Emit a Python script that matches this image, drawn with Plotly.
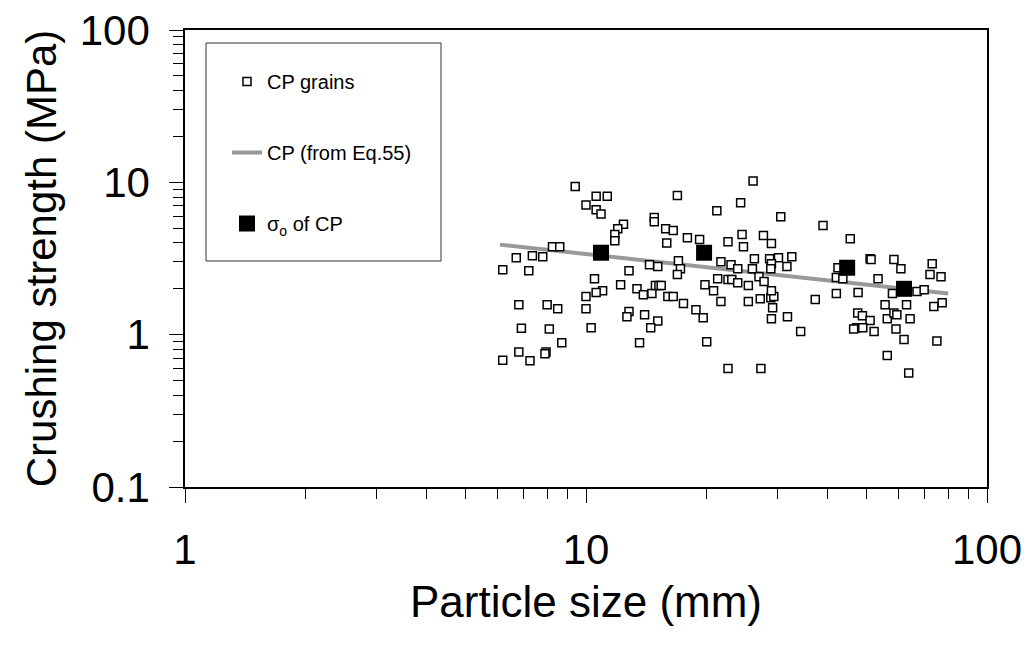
import plotly.graph_objects as go

# CP grains: particle size (mm) vs crushing strength (MPa)
grain_size = [
    9.4, 10.6, 11.3, 10.0, 10.6, 10.9, 12.4, 12.0, 11.8, 11.8,
    14.8, 14.8, 15.8, 15.9, 8.25, 8.6, 7.35, 7.8, 7.2, 12.8,
    14.4, 15.1, 10.5, 12.2, 13.4, 13.9, 14.6, 14.9, 15.2, 15.4,
    11.0, 10.6, 10.0, 8.0, 8.5, 10.0, 12.8, 12.65, 14.0, 15.1,
    16.0, 14.5, 8.1, 10.3, 8.7, 13.6, 7.95, 7.9, 7.25,
    26.1, 16.9, 24.3, 21.2, 30.6, 39.0, 16.5, 17.9, 19.2, 22.6,
    24.5, 27.7, 24.7, 29.0, 17.0, 17.2, 16.9, 21.7, 23.0, 23.9,
    26.3, 26.0, 28.7, 30.2, 32.6, 29.0, 28.9, 31.7, 27.0, 27.8,
    21.3, 22.6, 23.1, 23.9, 25.4, 19.8, 20.8, 16.5, 17.5, 18.8,
    19.6, 21.7, 25.4, 27.2, 28.9, 29.4, 29.0, 29.2, 29.0, 31.8,
    37.3, 34.3, 20.0, 22.6, 27.3,
    45.6, 42.5, 51.1, 51.4, 58.6, 61.0, 73.0, 72.1, 76.8, 42.1,
    43.7, 53.5, 42.1, 47.7, 58.1, 66.9, 69.7, 55.7, 63.0, 73.7,
    77.3, 47.6, 48.9, 51.1, 56.4, 58.6, 59.6, 64.3, 47.3, 46.5,
    49.0, 52.3, 59.3, 62.1, 75.0, 56.4, 63.8,
    6.2, 6.7, 6.2, 6.8, 6.8, 6.9,
]
grain_strength = [
    9.4, 8.1, 8.1, 7.1, 6.6, 6.2, 5.3, 4.96, 4.54, 4.14,
    5.87, 5.52, 4.96, 4.0, 3.78, 3.78, 3.3, 3.25, 2.63, 2.63,
    2.88, 2.8, 2.33, 2.13, 2.0, 1.83, 1.86, 2.1, 2.1, 2.1,
    1.94, 1.89, 1.78, 1.57, 1.48, 1.48, 1.42, 1.31, 1.35, 1.23,
    1.78, 1.11, 1.09, 1.11, 0.886, 0.886, 0.77, 0.75, 0.675,
    10.2, 8.2, 7.35, 6.52, 5.95, 5.2, 4.82, 4.33, 4.21, 4.08,
    4.54, 4.47, 3.78, 3.96, 3.06, 2.71, 2.48, 3.01, 2.88, 2.71,
    3.15, 2.71, 3.15, 3.2, 3.25, 2.92, 2.71, 2.8, 2.4, 2.23,
    2.33, 2.3, 2.3, 2.19, 2.1, 2.13, 1.94, 1.78, 1.6, 1.46,
    1.29, 1.65, 1.65, 1.72, 1.75, 1.78, 1.94, 1.5, 1.27, 1.31,
    1.7, 1.05, 0.9, 0.6, 0.6,
    4.27, 2.75, 3.15, 3.11, 3.11, 2.71, 2.92, 2.48, 2.4, 2.37,
    2.33, 2.33, 1.86, 1.89, 1.86, 1.92, 1.97, 1.57, 1.57, 1.53,
    1.62, 1.39, 1.33, 1.24, 1.27, 1.39, 1.35, 1.27, 1.11, 1.09,
    1.11, 1.05, 1.09, 0.93, 0.91, 0.73, 0.56,
    2.67, 3.2, 0.68, 0.77, 1.57, 1.1,
]

# CP curve from Eq.55
eq_size = [6.1, 80.0]
eq_strength = [3.9, 1.86]

# characteristic strength sigma_o of CP
sigma_size = [10.9, 19.7, 44.8, 62.1]
sigma_strength = [3.45, 3.45, 2.75, 2.0]

font = "Arial, Liberation Sans, sans-serif"

fig = go.Figure()

fig.add_trace(go.Scatter(
    x=eq_size, y=eq_strength, mode="lines",
    line=dict(color="#999999", width=4),
    name="CP (from Eq.55)", legendgroup="b", legendrank=2,
))
fig.add_trace(go.Scatter(
    x=grain_size, y=grain_strength, mode="markers",
    marker=dict(symbol="square", size=8, color="white",
                line=dict(color="black", width=1.5)),
    name="CP grains", legendgroup="a", legendrank=1,
))
fig.add_trace(go.Scatter(
    x=sigma_size, y=sigma_strength, mode="markers",
    marker=dict(symbol="square", size=16, color="black"),
    name="σ<sub>o</sub> of CP", legendgroup="c", legendrank=3,
))

# legend frame
fig.add_shape(type="rect", xref="paper", yref="paper",
              x0=(206 - 185) / 802, x1=(441 - 185) / 802,
              y0=(487 - 261) / 457, y1=(487 - 43) / 457,
              line=dict(color="#333333", width=1), fillcolor="white",
              layer="below")

axis_common = dict(
    type="log", showgrid=False, zeroline=False, automargin=False,
    showline=True, linecolor="black", linewidth=1.5, mirror=True,
    ticks="outside", ticklen=14, tickwidth=1.2, tickcolor="black",
    minor=dict(ticks="outside", ticklen=10, tickwidth=1, tickcolor="black",
               dtick="D1", showgrid=False),
    tickfont=dict(family=font, size=42, color="black"),
)

fig.update_xaxes(
    **axis_common, range=[0, 2],
    tickvals=[1, 10, 100], ticktext=["1", "10", "100"],
    ticklabelstandoff=11,
    title=dict(text="Particle size (mm)", standoff=14,
               font=dict(family=font, size=44, color="black")),
)
fig.update_yaxes(
    **axis_common, range=[-1, 2],
    tickvals=[0.1, 1, 10, 100], ticktext=["0.1", "1", "10", "100"],
    ticklabelstandoff=11,
    title=dict(text="Crushing strength (MPa)", standoff=10,
               font=dict(family=font, size=42, color="black")),
)

fig.update_layout(
    width=1035, height=646,
    margin=dict(l=185, r=48, t=30, b=159, autoexpand=False),
    paper_bgcolor="white", plot_bgcolor="white",
    showlegend=True,
    legend=dict(
        x=(227 - 185) / 802, y=(487 - 62) / 457,
        xanchor="left", yanchor="top",
        bgcolor="rgba(0,0,0,0)", borderwidth=0,
        font=dict(family=font, size=20, color="black"),
        tracegroupgap=42, itemsizing="trace",
        traceorder="grouped",
    ),
)

# drop the browser's default body margin so the figure sits at the page origin
fig.write_html("out.html", config={"displayModeBar": False},
               post_script="document.body.style.margin = '0';")
